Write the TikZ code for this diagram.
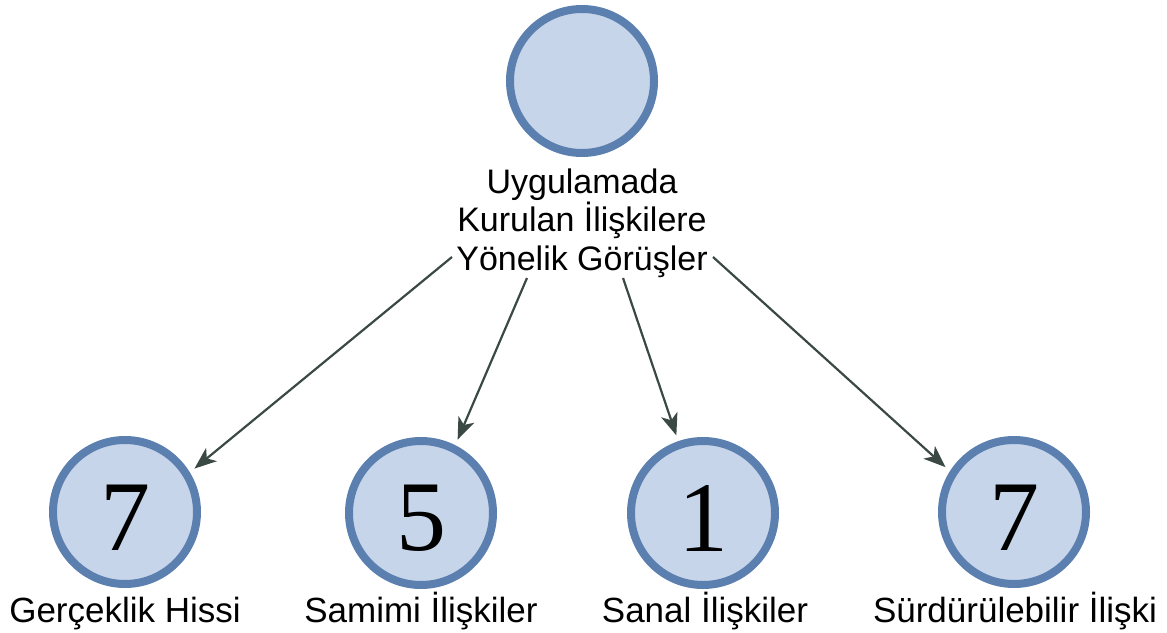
\documentclass[tikz,border=0pt]{standalone}
\usepackage{fontspec}
\setmainfont{Liberation Sans}
\newfontfamily\digitfont{Liberation Serif}
\usepackage{xcolor}
\usepackage{tikz}
\usetikzlibrary{shapes.geometric}
\usetikzlibrary{arrows.meta}

\definecolor{ringblue}{HTML}{5B7FAE}
\definecolor{fillblue}{HTML}{C6D5EA}
\definecolor{linkgrey}{HTML}{3A4944}

\begin{document}
\begin{tikzpicture}[x = 0.5pt, y = -0.5pt,
        theme/.style = {circle, draw = ringblue, fill = fillblue, line width = 4pt,
            minimum size = 72pt, inner sep = 0pt, outer sep = 0pt,
            font = \digitfont\fontsize{50}{50}\selectfont, text height = 38pt},
        caption/.style = {inner sep = 0pt, font = \fontsize{17.5}{19.25}\selectfont},
        link/.style = {draw = linkgrey, line width = 1.1pt, shorten > = 5pt,
            -{Stealth[length = 11pt, width = 8.5pt, inset = 3pt]}}]
        \useasboundingbox (0, 0) rectangle (1167, 632);

        \node[theme] (root) at (582, 81) {};
        \node[caption, anchor = north, align = center, font = \fontsize{17}{19.25}\selectfont]
            (topic) at (582, 168) {Uygulamada\\Kurulan İlişkilere\\Yönelik Görüşler};

        \node[theme] (c1) at (125, 512) {7};
        \node[theme] (c2) at (421, 513) {5};
        \node[theme] (c3) at (703, 513) {1};
        \node[theme] (c4) at (1014, 512) {7};

        \node[caption, anchor = base] (l1) at (125, 622) {Gerçeklik Hissi};
        \node[caption, anchor = base] (l2) at (421, 622) {Samimi İlişkiler};
        \node[caption, anchor = base] (l3) at (705, 622) {Sanal İlişkiler};
        \node[caption, anchor = base] (l4) at (1015, 622) {Sürdürülebilir İlişki};

        \coordinate (s1) at (452, 257);
        \coordinate (s2) at (527, 278);
        \coordinate (s3) at (623, 278);
        \coordinate (s4) at (713, 257);

        \draw[link] (s1) -- (c1.31);
        \draw[link] (s2) -- (c2.63);
        \draw[link] (s3) -- (c3.109);
        \draw[link] (s4) -- (c4.148);
    \end{tikzpicture}
\end{document}
